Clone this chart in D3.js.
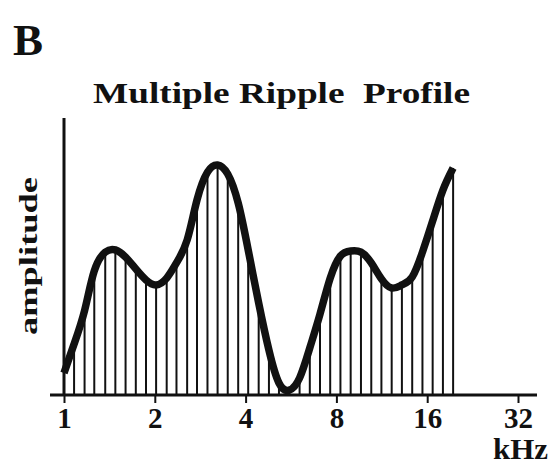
<!DOCTYPE html>
<html>
<head>
<meta charset="utf-8">
<script src="https://cdn.jsdelivr.net/npm/d3@7"></script>
<style>
  body { margin: 0; background: #fff; }
  text { font-family: "Liberation Serif", "Times New Roman", serif; font-weight: bold; fill: #111; }
</style>
</head>
<body>
<script>
// component frequencies (kHz), evenly spaced on the log axis
var freqs = [1.00, 1.08, 1.17, 1.26, 1.37, 1.48, 1.60, 1.73, 1.87, 2.02,
  2.19, 2.36, 2.56, 2.76, 2.99, 3.23, 3.49, 3.78, 4.08, 4.42,
  4.78, 5.16, 5.58, 6.04, 6.53, 7.06, 7.63, 8.25, 8.92, 9.65,
  10.44, 11.28, 12.20, 13.19, 14.27, 15.43, 16.68, 18.04, 19.50];
// amplitude of each component (top of axis = 100)
var amps = [7.6, 18.1, 30.2, 44.6, 51.4, 52.2, 49.6, 45.3, 41.3, 39.5,
  42.0, 47.5, 55.8, 70.3, 80.4, 83.0, 79.7, 69.2, 52.2, 33.0,
  15.9, 4.0, 1.4, 5.8, 16.7, 29.0, 42.0, 50.0, 51.8, 51.4,
  47.5, 41.7, 38.4, 39.5, 42.4, 51.4, 62.7, 73.9, 81.9];
var tickVals = [1, 2, 4, 8, 16, 32];

var width = 553, height = 467;
var svg = d3.select("body").append("svg")
  .attr("width", width)
  .attr("height", height);

var x = d3.scaleLog().base(2).domain([1, 32]).range([64, 518]);
var y = d3.scaleLinear().domain([0, 100]).range([394, 118]);

var data = freqs.map((f, i) => ({ f: f, a: amps[i] }));

// spectral lines
svg.append("g").selectAll("line").data(data)
  .enter().append("line")
  .attr("x1", d => x(d.f))
  .attr("x2", d => x(d.f))
  .attr("y1", y(0))
  .attr("y2", d => y(d.a))
  .attr("stroke", "#111")
  .attr("stroke-width", 2);

// envelope
var line = d3.line().x(d => x(d.f)).y(d => y(d.a)).curve(d3.curveNatural);
svg.append("path")
  .attr("d", line(data))
  .attr("fill", "none")
  .attr("stroke", "#111")
  .attr("stroke-width", 7.5)
  .attr("stroke-linejoin", "round");

// x axis
var xAxis = svg.append("g")
  .attr("transform", `translate(0,${y(0) + 1})`)
  .call(d3.axisBottom(x).tickValues(tickVals).tickFormat(d3.format("d")).tickSize(8).tickSizeOuter(0));
xAxis.select(".domain")
  .attr("d", `M${x.range()[0] - 14},0H${x.range()[1] + 19}`)
  .attr("stroke", "#111")
  .attr("stroke-width", 3);
xAxis.selectAll(".tick line").attr("stroke", "#111").attr("stroke-width", 2);
xAxis.selectAll(".tick text")
  .attr("y", 33)
  .attr("dy", 0)
  .style("font-family", '"Liberation Serif", "Times New Roman", serif')
  .style("font-weight", "bold")
  .style("font-size", "29px")
  .attr("fill", "#111");

// y axis
svg.append("line")
  .attr("x1", x(1)).attr("x2", x(1))
  .attr("y1", y(100)).attr("y2", y(0) + 2)
  .attr("stroke", "#111")
  .attr("stroke-width", 3);

// labels
svg.append("text")
  .attr("x", 13).attr("y", 55)
  .style("font-size", "45px")
  .text("B");

svg.append("text")
  .attr("x", 93).attr("y", 103)
  .style("font-size", "30px")
  .attr("textLength", 377)
  .attr("lengthAdjust", "spacingAndGlyphs")
  .attr("xml:space", "preserve")
  .text("Multiple Ripple  Profile");

svg.append("text")
  .attr("transform", "translate(37,256) rotate(-90)")
  .attr("text-anchor", "middle")
  .style("font-size", "26px")
  .attr("textLength", 158)
  .attr("lengthAdjust", "spacingAndGlyphs")
  .text("amplitude");

svg.append("text")
  .attr("x", 493).attr("y", 459)
  .style("font-size", "30px")
  .attr("textLength", 55)
  .attr("lengthAdjust", "spacingAndGlyphs")
  .text("kHz");
</script>
</body>
</html>
